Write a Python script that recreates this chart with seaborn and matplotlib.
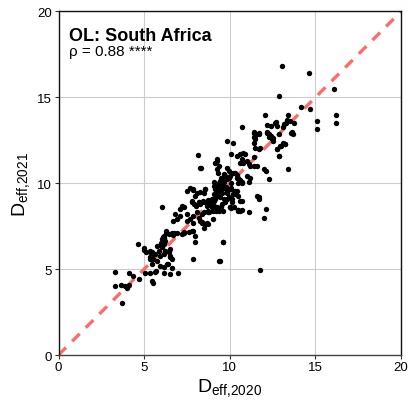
import matplotlib
matplotlib.use("Agg")
import matplotlib.pyplot as plt
import seaborn as sns
import numpy as np
import pandas as pd

title = "OL: South Africa"
stat_text = "ρ = 0.88 ****"
x_label = r"$\mathregular{D_{eff{,}2020}}$"
y_label = r"$\mathregular{D_{eff{,}2021}}$"
ticks = [0, 5, 10, 15, 20]

pts = [
    (3.3,4.86),(3.3,4.0),(3.65,4.07),(3.9,4.03),(3.99,3.88),(4.14,4.07),(3.7,3.0),(4.14,4.77),(4.37,4.6),(4.72,4.4),
    (4.63,6.45),(5.45,4.3),(5.5,4.2),(5.06,4.8),(5.35,4.8),
    (5.0,6.1),(5.0,6.25),(5.1,6.0),(5.35,6.0),(5.45,5.8),(5.35,5.6),(6.0,6.5),(6.0,6.4),(6.1,6.85),(6.15,6.95),
    (6.3,7.1),(6.45,7.05),(6.6,7.1),(6.75,7.1),(6.9,7.1),(7.3,7.15),(7.6,7.15),(7.8,7.2),(7.98,6.9),(7.98,6.55),
    (7.88,5.6),(6.2,6.05),(6.15,5.87),(6.5,5.77),(6.6,5.58),(6.4,5.29),(6.6,5.04),(6.5,4.7),(7.0,4.77),(5.93,5.2),
    (5.7,4.9),(5.64,4.84),(6.13,4.8),
    (5.35,6.06),(5.45,5.97),(5.64,5.87),(5.35,5.68),(5.54,5.58),(5.74,5.48),(5.45,5.29),(6.33,5.29),(6.13,5.1),
    (6.13,6.84),(6.03,6.74),(6.23,6.65),(6.13,6.45),(6.03,6.26),(5.84,6.06),(5.74,6.36),(5.93,5.77),(6.23,6.06),
    (6.43,5.97),(6.52,6.16),(6.52,5.68),
    (6.03,8.62),(7.2,8.68),(7.3,8.59),(7.1,8.49),(7.8,8.88),(7.9,8.78),(8.0,8.68),(8.18,8.88),(8.47,8.88),(8.67,8.68),
    (8.96,8.59),(9.05,8.97),(9.15,9.07),(8.76,8.3),(8.47,8.3),(9.35,8.39),(9.44,8.49),(10.03,8.59),(10.5,8.39),(10.6,8.39),
    (11.1,8.3),(6.81,8.2),(6.91,7.91),(6.71,7.81),(7.1,8.1),(7.5,8.2),(7.5,7.81),(7.69,7.91),(7.88,8.1),(8.08,8.3),
    (8.18,8.0),(7.88,7.71),(8.27,7.81),(8.57,7.62),(8.47,7.42),(8.67,7.71),(7.88,7.23),(6.3,7.2),(6.7,7.0),(7.2,7.03),
    (7.3,7.13),(9.6,6.59),(9.4,5.48),
    (7.5,9.55),(7.85,9.6),(8.27,9.5),(8.57,9.65),(9.05,9.85),(9.25,9.46),(9.54,9.75),(9.84,9.55),(10.1,9.75),(10.4,9.55),
    (10.3,9.36),(9.84,9.07),(9.3,10.6),(9.5,10.3),(9.1,10.1),(9.3,9.85),(9.65,10.1),(9.95,10.3),(10.3,10.6),(10.45,10.3),
    (10.1,10.0),(9.8,9.8),(10.6,10.2),(10.7,10.0),(10.5,10.0),
    (10.7,13.3),(12.4,13.33),(12.66,13.52),(12.76,13.33),(13.15,13.43),(13.54,13.62),(13.73,13.52),(11.4,12.95),(11.7,12.85),
    (11.5,12.75),(12.2,12.95),(12.4,12.75),(12.5,12.65),(12.3,12.85),(13.6,12.95),(13.7,12.85),(9.84,12.46),(10.2,12.33),
    (11.4,12.36),(11.5,12.07),(12.95,12.17),(13.25,12.27),(12.76,11.98),(11.78,12.07),
    (10.1,11.69),(10.4,11.59),(10.6,11.69),(10.8,11.78),(10.9,11.69),(10.7,11.4),(11.0,11.3),(10.8,11.2),(11.1,11.1),
    (11.2,11.0),(10.6,11.2),(11.4,11.0),(11.6,11.0),(12.0,10.8),(12.1,10.7),(12.85,11.59),(13.4,10.8),(12.27,10.23),
    (9.25,11.3),(9.15,11.2),(9.35,11.0),(8.27,10.9),
    (10.2,10.6),(10.4,10.5),(10.5,10.3),(10.7,10.1),(11.0,10.4),(11.2,10.3),(11.1,10.1),
    (11.6,9.26),(11.7,9.17),(10.5,9.26),(10.6,8.97),(10.7,8.97),(10.3,9.55),(10.1,9.65),(10.2,9.36),(10.0,8.6),
    (10.5,8.45),(10.7,8.45),(12.1,8.5),
    (13.05,16.82),(14.65,16.4),(12.9,15.1),(16.1,15.5),(14.16,14.46),(14.67,14.3),(12.08,13.95),(13.4,14.0),(12.72,13.56),
    (13.35,13.68),(13.3,13.49),(15.1,13.62),(15.07,13.18),(16.23,14.0),(16.23,13.49),(13.1,13.27),(11.4,12.98),(11.7,12.9),
    (11.4,12.7),(11.45,12.6),(12.2,13.37),(12.2,12.98),(12.3,12.7),(12.47,12.56),(12.5,12.46),(13.64,12.98),(12.85,12.85),
    (13.1,12.36),(13.0,12.17),(13.2,12.27),(12.76,12.0),(12.85,11.59),(11.7,12.0),(11.4,11.55),
    (10.07,8.53),(10.5,8.43),(11.98,7.95),(11.7,9.07),(10.15,9.07),(9.58,6.59),(9.39,5.48),(11.78,4.94),
    (8.45,8.95),(8.7,9.05),(8.8,8.8),(9.0,8.7),(8.7,8.4),(9.0,8.4),(9.2,8.4),(9.5,8.6),(9.6,8.4),(8.4,8.2),(8.7,8.3),
    (9.0,7.9),(8.4,7.7),(8.7,7.6),(8.35,7.75),
    (8.14,11.63),(8.3,10.9),(9.25,11.4),(9.25,10.8),
    (9.84,10.9),(9.93,10.7),(10.03,10.4),
    (9.64,10.52),(9.74,10.42),(9.54,10.33),(9.84,10.23),(9.44,10.14),(9.35,10.04),(9.25,9.84),(9.54,9.84),(9.64,9.75),
    (9.84,9.75),(9.15,9.65),(9.35,9.55),(9.54,9.46),(9.05,9.36),(9.25,9.26),(8.96,9.07),(9.44,9.17),(9.64,9.07),
    (9.74,8.88),(8.86,8.88),(8.67,8.78),(9.05,8.68),(9.25,8.59),(9.54,8.78),(9.84,9.46),(9.93,9.17),(10.13,8.88),
    (10.22,8.59),(10.03,9.65),(7.69,9.75),(7.88,9.65),(8.08,9.46),(7.98,9.26),(7.79,8.97),(8.18,8.88),(8.27,8.78),
    (8.47,9.46),(8.57,9.65),
]
x_vals = [p[0] for p in pts]
y_vals = [p[1] for p in pts]
df = pd.DataFrame({"x": x_vals, "y": y_vals})

sns.set_style("white")
plt.rcParams['font.family'] = ['Liberation Sans', 'DejaVu Sans']
plt.rcParams['mathtext.default'] = 'regular'
plt.rcParams['mathtext.fontset'] = 'custom'
plt.rcParams['mathtext.rm'] = 'Liberation Sans'
plt.rcParams['mathtext.it'] = 'Liberation Sans'
plt.rcParams['text.color'] = 'black'
plt.rcParams['axes.labelcolor'] = 'black'
plt.rcParams['xtick.color'] = 'black'
plt.rcParams['ytick.color'] = 'black'

fig = plt.figure(figsize=(4.08, 4.02), dpi=100)
ax = fig.add_axes([0.1434, 0.1144, 0.8396, 0.8546])

ax.grid(True, color="#cccccc", linewidth=0.8, zorder=0)
ax.set_axisbelow(True)
ax.plot([0, 20], [0, 20], linestyle=(0, (3.2, 2.6)), color="#ff6b6b", linewidth=2.4, zorder=1)
sns.scatterplot(data=df, x="x", y="y", ax=ax, color="black", s=15, linewidth=0, zorder=3)

ax.set_xlim(0, 20)
ax.set_ylim(0, 20)
ax.set_xticks(ticks)
ax.set_yticks(ticks)
ax.tick_params(axis="both", labelsize=9.5, length=3, width=0.8, color="#333333", pad=1.5,
               bottom=True, left=True)
for s in ax.spines.values():
    s.set_color("#111111")
    s.set_linewidth(1.0)
ax.spines["bottom"].set_color("#444444")

ax.set_xlabel(x_label, fontsize=14, labelpad=2)
ax.set_ylabel(y_label, fontsize=14, labelpad=4)

ax.text(0.03, 0.955, title, transform=ax.transAxes, fontsize=13, fontweight="bold", va="top", ha="left")
ax.text(0.03, 0.885, stat_text, transform=ax.transAxes, fontsize=11, va="center", ha="left")

fig.savefig("out.png", dpi=100)
